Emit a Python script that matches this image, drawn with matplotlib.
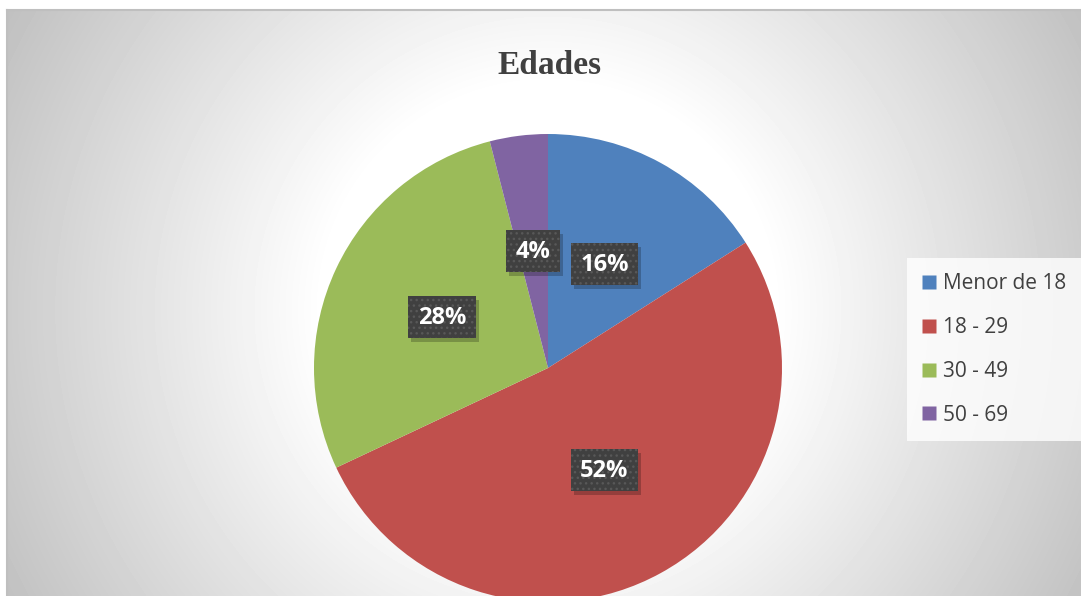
import numpy as np
import matplotlib
matplotlib.use("Agg")
import matplotlib.pyplot as plt
import matplotlib.transforms as mtransforms
from matplotlib.lines import Line2D
from matplotlib.patches import Rectangle

# ---- data ----
categories = ["Menor de 18", "18 - 29", "30 - 49", "50 - 69"]
values = [16, 52, 28, 4]
colors = ["#4F81BD", "#C0504D", "#9BBB59", "#8064A2"]
title = "Edades"

W, H = 1081, 596
fig = plt.figure(figsize=(W / 100, H / 100), dpi=100)

# ---- background with radial gradient ----
bg = fig.add_axes([0, 0, 1, 1], zorder=-5)
bg.set_xlim(0, W)
bg.set_ylim(H, 0)
bg.axis("off")
X, Y = np.meshgrid(np.arange(W) + 0.5, np.arange(H) + 0.5)
d = np.hypot(X - 548, Y - 310)
val = (255 - 0.16 * np.clip(d - 225, 0, None)) / 255.0
val[(X < 7) | (Y < 10)] = 1.0
bg.imshow(val, cmap="gray", vmin=0, vmax=1, extent=(0, W, H, 0),
          interpolation="bilinear", aspect="auto")
bg.plot([6.5, 6.5], [9.5, H], color="#bfbfbf", lw=1.5)
bg.plot([6.5, W], [9.5, 9.5], color="#bfbfbf", lw=1.5)

# ---- pie ----
cx, cy, r = 548, 368, 234
ax = fig.add_axes([(cx - r) / W, (H - cy - r) / H, 2 * r / W, 2 * r / H])
ax.patch.set_visible(False)
wedges, texts, autotexts = ax.pie(
    values, colors=colors, startangle=90, counterclock=False, radius=1,
    autopct="%1.0f%%", pctdistance=0.5, wedgeprops=dict(linewidth=0),
    textprops=dict(color="white", fontsize=17, fontweight="bold",
                   family=["Open Sans", "DejaVu Sans"]))
ax.set_xlim(-1, 1)
ax.set_ylim(-1, 1)
ax.set_aspect("equal")

# label boxes (dark with dotted pattern and a soft shadow)
fig.canvas.draw()
renderer = fig.canvas.get_renderer()
ident = mtransforms.IdentityTransform()
for t in autotexts:
    t.set_zorder(10)
    ext = t.get_window_extent(renderer)
    tx, ty = ax.transData.transform(t.get_position())
    bw, bh = ext.width + 19, 42
    x0, y0 = tx - bw / 2, ty - bh / 2 + 1
    sh = Rectangle((x0 + 3, y0 - 4), bw, bh, transform=ident, fc="black",
                   alpha=0.22, ec="none", zorder=8, clip_on=False)
    box = Rectangle((x0, y0), bw, bh, transform=ident, fc="#404040",
                    ec="#585858", lw=0, hatch="...", zorder=9, clip_on=False)
    ax.add_artist(sh)
    ax.add_artist(box)

# ---- title ----
fig.text(549 / W, 1 - 66 / H, title, ha="center", va="center",
         family=["Liberation Serif", "DejaVu Serif"], fontweight="bold",
         fontsize=24, color="#404040")

# ---- legend ----
handles = [Line2D([], [], marker="s", linestyle="none", markersize=10,
                  markerfacecolor=c, markeredgecolor="none") for c in colors]
leg = fig.legend(handles, categories, loc="upper left",
                 bbox_to_anchor=(907 / W, 1 - 258 / H), borderaxespad=0,
                 frameon=True, fancybox=False, borderpad=0.72,
                 labelspacing=1.1, handlelength=0.7, handletextpad=0.31,
                 prop=dict(family=["Open Sans", "DejaVu Sans"], size=15))
for txt in leg.get_texts():
    txt.set_color("#404040")
fr = leg.get_frame()
fr.set_facecolor((1, 1, 1, 0.28))
fr.set_edgecolor("none")
fr.set_linewidth(0)

fig.savefig("out.png", dpi=100)
